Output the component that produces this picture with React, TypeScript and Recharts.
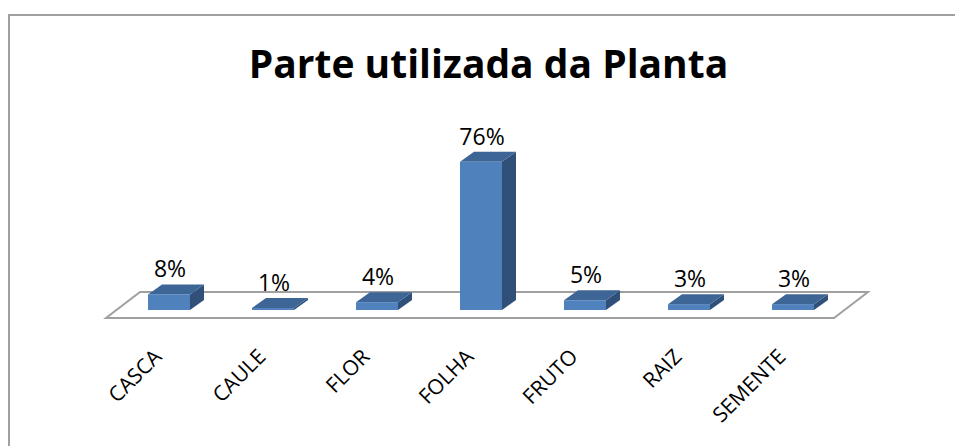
import { BarChart, Bar, XAxis, YAxis, ReferenceArea, LabelList } from 'recharts'

const categories = ['CASCA', 'CAULE', 'FLOR', 'FOLHA', 'FRUTO', 'RAIZ', 'SEMENTE']
const values = [8, 1, 4, 76, 5, 3, 3]

const data = categories.map((name, i) => ({ name, value: values[i] }))

const SHIFT = 11
const DX = 14
const DY = 10
const FONT = "'Open Sans', Calibri, sans-serif"

const Box3D = (props: any) => {
  const { x, y, width, height } = props
  const fx = x + SHIFT
  const h = Math.max(height, 0)
  return (
    <g>
      <polygon
        points={`${fx + width},${y} ${fx + width + DX},${y - DY} ${fx + width + DX},${y + h - DY} ${fx + width},${y + h}`}
        fill="#30507a"
      />
      <polygon
        points={`${fx},${y} ${fx + DX},${y - DY} ${fx + width + DX},${y - DY} ${fx + width},${y}`}
        fill="#3d6696"
      />
      <rect x={fx} y={y} width={width} height={h} fill="#4f81bd" />
    </g>
  )
}

const Floor = (props: any) => {
  const { x, y, width, height } = props
  return (
    <polygon
      points={`${x},${y + height} ${x + width},${y + height} ${x + width + 34},${y} ${x + 34},${y}`}
      fill="#ffffff"
      stroke="#a0a0a0"
      strokeWidth={2}
    />
  )
}

const Tick = (props: any) => {
  const { x, y, payload } = props
  const tx = x + 5
  const ty = y + 32
  return (
    <text
      x={tx}
      y={ty}
      transform={`rotate(-45, ${tx}, ${ty})`}
      textAnchor="end"
      fontSize={21}
      fontFamily={FONT}
      fill="#000000"
    >
      {payload.value}
    </text>
  )
}

const ValueLabel = (props: any) => {
  const { x, y, width, value } = props
  return (
    <text
      x={x + SHIFT + width / 2 + 1}
      y={y - DY - 7}
      textAnchor="middle"
      fontSize={23}
      fontFamily={FONT}
      fill="#000000"
    >
      {value + '%'}
    </text>
  )
}

export default function App() {
  return (
    <div style={{ position: 'absolute', left: 0, top: 0, width: 955, height: 446, background: '#fff' }}>
      <div
        style={{
          position: 'absolute',
          left: 8,
          top: 14,
          width: 960,
          height: 440,
          borderTop: '2px solid #a0a0a0',
          borderLeft: '2px solid #a0a0a0',
        }}
      />
      <div
        style={{
          position: 'absolute',
          left: 0,
          top: 39,
          width: 977,
          textAlign: 'center',
          fontFamily: FONT,
          fontWeight: 700,
          fontSize: 39,
          lineHeight: '48px',
          color: '#000',
        }}
      >
        Parte utilizada da Planta
      </div>
      <div style={{ position: 'absolute', left: 0, top: 0 }}>
        <BarChart
          width={955}
          height={446}
          data={data}
          margin={{ top: 154, right: 121, bottom: 98, left: 106 }}
        >
          <XAxis dataKey="name" axisLine={false} tickLine={false} tick={<Tick />} interval={0} height={30} />
          <YAxis hide domain={[-4.11, 80]} />
          <ReferenceArea y1={-4.11} y2={9.24} shape={<Floor />} />
          <Bar dataKey="value" barSize={42} shape={<Box3D />} isAnimationActive={false}>
            <LabelList dataKey="value" content={<ValueLabel />} />
          </Bar>
        </BarChart>
      </div>
    </div>
  )
}
